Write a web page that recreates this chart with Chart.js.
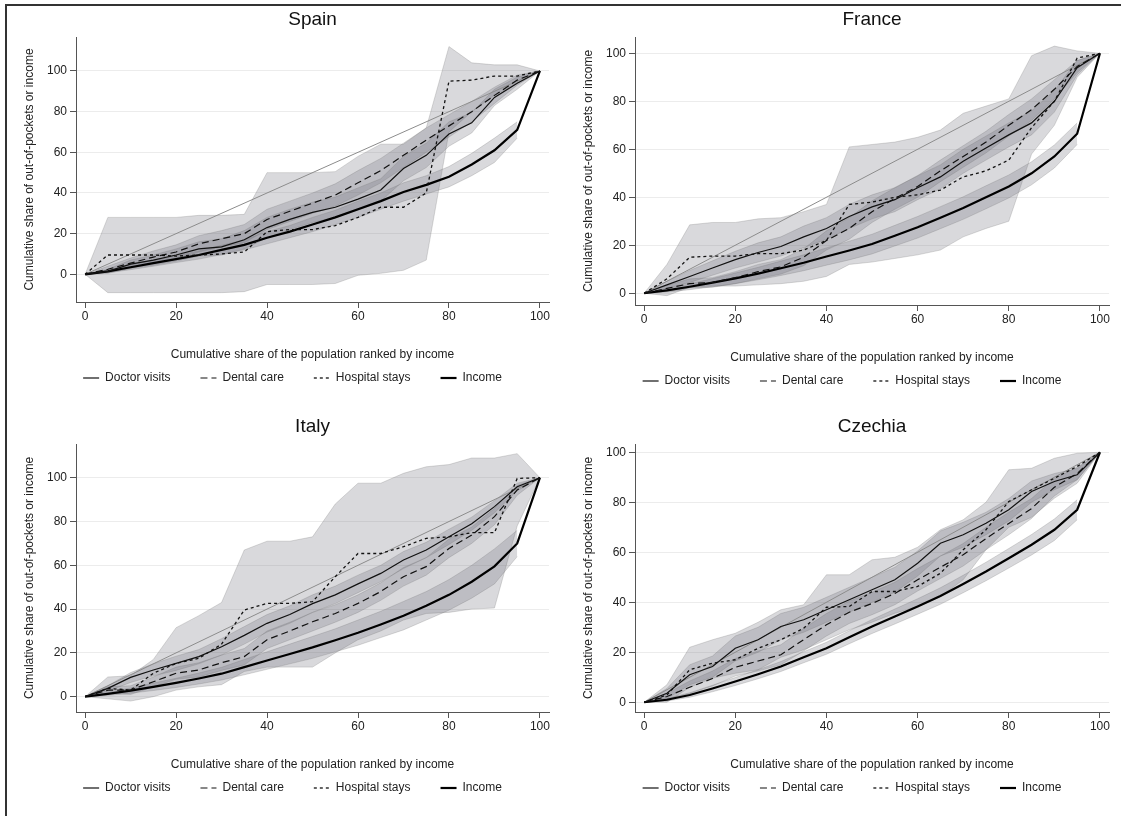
<!DOCTYPE html>
<html lang="en">
<head>
<meta charset="UTF-8">
<title>Concentration curves of out-of-pocket payments</title>
<style>
    body { margin: 0; background: #fff; overflow: hidden; }
    #frame { position: absolute; left: 5px; top: 4px; width: 1200px; height: 900px;
             border-top: 2px solid #333; border-left: 2px solid #333; }
    .panel { position: absolute; }
</style>
<script src="https://cdn.jsdelivr.net/npm/chart.js"></script>
</head>
<body>
<div id="frame"></div>
<div class="panel" style="left:8px;top:6px;width:543px;height:388px"><canvas id="spain"></canvas></div>
<div class="panel" style="left:567px;top:6px;width:544px;height:391px"><canvas id="france"></canvas></div>
<div class="panel" style="left:8px;top:413px;width:543px;height:391px"><canvas id="italy"></canvas></div>
<div class="panel" style="left:567px;top:413px;width:544px;height:391px"><canvas id="czechia"></canvas></div>

<script>
    // cumulative population share (ventiles)
    const xs = [0, 5, 10, 15, 20, 25, 30, 35, 40, 45, 50, 55, 60, 65, 70, 75, 80, 85, 90, 95, 100];
    const xTicks = [0, 20, 40, 60, 80, 100];
    const yTicks = [0, 20, 40, 60, 80, 100];
    const equalityX = [0, 100];
    const equalityY = [0, 100];
    const legendLabels = ['Doctor visits', 'Dental care', 'Hospital stays', 'Income'];

    // Spain
    const spainDoctor   = [0, 1.5, 5, 7, 9.5, 12.5, 13.5, 17, 23, 27, 30.5, 33, 37, 41.5, 52, 58.5, 69, 74.5, 87, 94, 100];
    const spainDental   = [0, 2.5, 5.5, 8.5, 11, 15, 17.5, 20, 27, 31, 35, 39, 45, 51, 58.5, 66, 73, 80, 88, 95.5, 100];
    const spainHospital = [0, 9.5, 9.5, 9.5, 9, 9.5, 10, 11, 21, 22, 22, 24, 28, 33, 33, 40, 95, 95.5, 97.5, 97.5, 100];
    const spainIncome   = [0, 1.5, 3.5, 5.5, 7.5, 9.5, 12, 14.5, 18, 21, 24.5, 28, 32, 36, 40.5, 44, 48, 54, 61, 71, 100];
    const spainDoctorLo   = [0, 0.5, 3, 4.5, 6.5, 9, 9.5, 12.5, 18, 22, 25.5, 28, 31.5, 36, 46, 52.5, 63, 69.5, 83, 91, 100];
    const spainDoctorHi   = [0, 2.5, 7, 9.5, 12.5, 16, 17.5, 21.5, 28, 32, 35.5, 38, 42.5, 47, 58, 64.5, 75, 79.5, 91, 97, 100];
    const spainDentalLo   = [0, 1, 3, 5.5, 7.5, 11, 13.5, 15.5, 22, 26, 30, 33.5, 39, 45, 52.5, 60, 67.5, 75, 84, 93, 100];
    const spainDentalHi   = [0, 4, 8, 11.5, 14.5, 19, 21.5, 24.5, 32, 36, 40, 44.5, 51, 57, 64.5, 72, 78.5, 85, 92, 98, 100];
    const spainHospitalLo = [0, -9, -9, -9, -9, -9, -9, -8.5, -5, -5, -5, -4.5, -0.5, 0.5, 2, 7, 70, 80, 88, 94, 100];
    const spainHospitalHi = [0, 28, 28, 28, 28, 29, 29, 29.5, 50, 50, 50, 50.5, 58, 64, 64, 72, 112, 104, 103, 103, 100];
    const spainIncomeLo   = [0, 0.8, 2.3, 4, 5.8, 7.5, 9.7, 12, 15, 18, 21, 24.5, 28, 32, 36, 39.5, 43, 48.5, 55, 67, null];
    const spainIncomeHi   = [0, 2.2, 4.7, 7, 9.2, 11.5, 14.3, 17, 21, 24, 28, 31.5, 36, 40, 45, 48.5, 53, 59.5, 67, 75, null];

    // France
    const franceDoctor   = [0, 3.5, 7, 10.5, 14, 17, 19.5, 23.5, 27, 32, 36, 39, 44, 48.5, 55, 60.5, 66, 71, 80, 94, 100];
    const franceDental   = [0, 2, 4, 4.5, 6.5, 9, 11, 15, 22, 27, 34, 39.5, 44.5, 51, 57, 63, 70, 76.5, 85, 94.5, 100];
    const franceHospital = [0, 6, 15, 15.5, 15.5, 16.5, 16.5, 18, 22, 37, 38, 40, 41, 43, 48.5, 51, 55.5, 69, 80, 98, 100];
    const franceIncome   = [0, 1.2, 2.7, 4.4, 6.2, 8.2, 10.4, 12.7, 15.3, 17.8, 20.5, 24, 27.5, 31.5, 35.5, 40, 44.5, 50, 57, 66.5, 100];
    const franceDoctorLo   = [0, 2, 4.5, 7.5, 10.5, 13, 15.5, 19, 22.5, 27, 31, 34, 39, 43.5, 50, 55.5, 61, 66, 75.5, 91, 100];
    const franceDoctorHi   = [0, 5, 9.5, 13.5, 17.5, 21, 23.5, 28, 31.5, 37, 41, 44, 49, 53.5, 60, 65.5, 71, 76, 84.5, 97, 100];
    const franceDentalLo   = [0, 0.8, 2.2, 2.5, 4, 6, 8, 11.5, 18, 22.5, 29.5, 35, 40, 46.5, 52.5, 58.5, 65.5, 72, 81, 92, 100];
    const franceDentalHi   = [0, 3.2, 6, 6.5, 9, 12, 14, 18.5, 26, 31.5, 38.5, 44, 49, 55.5, 61.5, 67.5, 74.5, 81, 89, 97, 100];
    const franceHospitalLo = [0, -1, 2.5, 3, 3, 3.5, 4, 5, 7, 12, 13, 14.5, 16, 18, 23.5, 27, 30, 58, 70, 90, 100];
    const franceHospitalHi = [0, 12, 28.5, 29.5, 29.5, 31, 31.5, 34, 37, 61, 62, 63, 65, 68, 75, 78, 81, 99, 103, 101, 100];
    const franceIncomeLo   = [0, 0.5, 1.5, 2.7, 4, 5.6, 7.4, 9.4, 11.7, 13.9, 16.4, 19.7, 23, 26.9, 30.8, 35.2, 39.7, 45.2, 52.2, 62, null];
    const franceIncomeHi   = [0, 1.9, 3.9, 6.1, 8.4, 10.8, 13.4, 16, 18.9, 21.7, 24.6, 28.3, 32, 36.1, 40.2, 44.8, 49.3, 54.8, 61.8, 71, null];

    // Italy
    const italyDoctor   = [0, 3.8, 8.8, 12.2, 15.2, 18.3, 22.8, 28, 33.5, 37.5, 42.5, 46.5, 51.5, 56.3, 62.4, 67, 73, 79, 86.8, 95.9, 100];
    const italyDental   = [0, 3, 3, 6.8, 10.7, 12.2, 15.5, 18.3, 26, 30, 34.2, 38, 42.6, 48, 54.8, 59.4, 67.7, 73.8, 82.2, 94.4, 100];
    const italyHospital = [0, 3.8, 3, 10.7, 15.2, 17.5, 24, 39.6, 42.6, 42.6, 43.4, 54.8, 65.4, 65.4, 68.5, 72.3, 73, 74.9, 74.9, 99.7, 100];
    const italyIncome   = [0, 1.3, 2.8, 4.5, 6.3, 8.3, 10.5, 13.5, 16.5, 19.5, 22.5, 25.8, 29.2, 33, 37, 41.5, 46.5, 52.5, 59.5, 70, 100];
    const italyDoctorLo   = [0, 2.5, 6.5, 9.5, 12, 15, 19, 24, 29.5, 33.5, 38.5, 42.5, 47.5, 52.5, 58.5, 63.5, 69.5, 76, 84, 94, 100];
    const italyDoctorHi   = [0, 5, 11, 15, 18.5, 21.5, 26.5, 32, 37.5, 41.5, 46.5, 50.5, 55.5, 60, 66.3, 70.5, 76.5, 82, 89.5, 97.5, 100];
    const italyDentalLo   = [0, 1.5, 1, 4.5, 8, 9, 12, 14.5, 22, 26, 30, 34, 38.5, 44, 50.5, 55.5, 63.5, 70, 78.5, 92, 100];
    const italyDentalHi   = [0, 4.5, 5, 9, 13.5, 15.5, 19, 22, 30, 34, 38.5, 42, 46.5, 52, 59, 63.5, 72, 77.5, 86, 96.5, 100];
    const italyHospitalLo = [0, -1, -2, 0, 3, 4.5, 5.5, 11.5, 13.5, 13.5, 13.5, 20, 26, 30, 35, 38, 38.5, 40, 40.5, 78, 100];
    const italyHospitalHi = [0, 9, 9.5, 17, 31.5, 37, 43, 67, 71, 71, 73, 88, 97.5, 97.5, 102, 105, 106, 109, 109, 111, 100];
    const italyIncomeLo   = [0, 0.6, 1.6, 2.8, 4.2, 5.8, 7.6, 10, 12.5, 15, 17.5, 20.5, 23.5, 27, 30.5, 35, 39.5, 45, 51.5, 64, null];
    const italyIncomeHi   = [0, 2, 4, 6.2, 8.4, 10.8, 13.4, 17, 20.5, 24, 27.5, 31, 35, 39, 43.5, 48, 53.5, 60, 67.5, 76, null];

    // Czechia
    const czechDoctor   = [0, 3.6, 11, 14.3, 21.6, 25, 30.3, 33, 37, 41, 45, 49, 55.6, 63.6, 67, 71.6, 77, 84.3, 88.3, 91, 100];
    const czechDental   = [0, 2.3, 6, 9.5, 14, 16.5, 19, 25, 31, 36, 39.5, 43.5, 49, 54, 59, 65.5, 71.5, 77.5, 86, 91.5, 100];
    const czechHospital = [0, 2.9, 13, 15.6, 17, 21.6, 25, 29.6, 38, 38.3, 44.3, 44.3, 46.3, 51.6, 61, 69, 80.3, 85, 89.6, 94.3, 100];
    const czechIncome   = [0, 1, 2.9, 5.5, 8.3, 11.2, 14.3, 18, 21.6, 26, 30.3, 34.3, 38.3, 42.5, 47.3, 52.3, 57.6, 63, 69, 77, 100];
    const czechDoctorLo   = [0, 1.5, 7, 10, 16.5, 20, 25, 28, 32, 36, 40, 44, 50.5, 58.5, 62, 67, 72.5, 80, 85, 89, 100];
    const czechDoctorHi   = [0, 5.5, 15, 18.5, 26.5, 30, 35.5, 38, 42, 46, 50, 54, 60.5, 68.5, 72, 76, 81.5, 88.5, 91.5, 93.5, 100];
    const czechDentalLo   = [0, 1, 3.5, 6.5, 10.5, 12.5, 15, 20.5, 26.5, 31.5, 35, 39, 44.5, 49.5, 54.5, 61, 67, 73.5, 82.5, 89, 100];
    const czechDentalHi   = [0, 3.6, 8.5, 12.5, 17.5, 20.5, 23, 29.5, 35.5, 40.5, 44, 48, 53.5, 58.5, 63.5, 70, 76, 81.5, 89.5, 94, 100];
    const czechHospitalLo = [0, 0, 6, 9.6, 11.6, 13, 18, 21, 25, 29, 32, 35.6, 38.3, 42.3, 49, 61, 70, 74, 81.6, 87.6, 100];
    const czechHospitalHi = [0, 7, 22, 25, 27.6, 32, 37, 39, 51, 51, 57, 58, 62, 69, 73, 80, 93, 93.6, 97.6, 99.6, 100];
    const czechIncomeLo   = [0, 0.5, 2, 4.2, 6.7, 9.4, 12.3, 15.8, 19.2, 23.4, 27.5, 31.3, 35.2, 39.2, 43.8, 48.6, 53.7, 58.9, 64.7, 73, null];
    const czechIncomeHi   = [0, 1.5, 3.8, 6.8, 9.9, 13, 16.3, 20.2, 24, 28.6, 33.1, 37.3, 41.4, 45.8, 50.8, 56, 61.5, 67.1, 73.3, 81, null];

    const FONT = "'Liberation Sans', Arial, sans-serif";
    const BAND_FILL = 'rgba(110,110,118,0.26)';
    const BAND_EDGE = 'rgba(110,110,110,0.3)';

    const panels = [
        { id: 'spain', title: 'Spain', yMin: -13.6, yMax: 116.7,
          doctor: spainDoctor, dental: spainDental, hospital: spainHospital, income: spainIncome,
          bands: [[spainHospitalLo, spainHospitalHi], [spainDoctorLo, spainDoctorHi],
                  [spainDentalLo, spainDentalHi], [spainIncomeLo, spainIncomeHi]] },
        { id: 'france', title: 'France', yMin: -4.9, yMax: 106.8,
          doctor: franceDoctor, dental: franceDental, hospital: franceHospital, income: franceIncome,
          bands: [[franceHospitalLo, franceHospitalHi], [franceDoctorLo, franceDoctorHi],
                  [franceDentalLo, franceDentalHi], [franceIncomeLo, franceIncomeHi]] },
        { id: 'italy', title: 'Italy', yMin: -7, yMax: 115.4,
          doctor: italyDoctor, dental: italyDental, hospital: italyHospital, income: italyIncome,
          bands: [[italyHospitalLo, italyHospitalHi], [italyDoctorLo, italyDoctorHi],
                  [italyDentalLo, italyDentalHi], [italyIncomeLo, italyIncomeHi]] },
        { id: 'czechia', title: 'Czechia', yMin: -3.9, yMax: 103.3,
          doctor: czechDoctor, dental: czechDental, hospital: czechHospital, income: czechIncome,
          bands: [[czechHospitalLo, czechHospitalHi], [czechDoctorLo, czechDoctorHi],
                  [czechDentalLo, czechDentalHi], [czechIncomeLo, czechIncomeHi]] }
    ];

    function pts(arr) {
        return xs.map((x, i) => ({ x: x, y: arr[i] }));
    }

    function buildDatasets(p) {
        const ds = [
            { label: 'Doctor visits', data: pts(p.doctor), borderColor: '#111', borderWidth: 1.2, order: 0 },
            { label: 'Dental care', data: pts(p.dental), borderColor: '#111', borderWidth: 1.2, borderDash: [7, 4], order: 0 },
            { label: 'Hospital stays', data: pts(p.hospital), borderColor: '#111', borderWidth: 1.3, borderDash: [3, 3], order: 0 },
            { label: 'Income', data: pts(p.income), borderColor: '#000', borderWidth: 2.2, order: 0 },
            { label: 'Equality', data: equalityX.map((x, i) => ({ x: x, y: equalityY[i] })),
              borderColor: '#8c8c8c', borderWidth: 1, order: 1 }
        ];
        p.bands.forEach(b => {
            const lo = ds.length;
            ds.push({ label: 'band', data: pts(b[0]), borderColor: BAND_EDGE, borderWidth: 0.8, fill: false, order: 2 });
            ds.push({ label: 'band', data: pts(b[1]), borderColor: BAND_EDGE, borderWidth: 0.8,
                      backgroundColor: BAND_FILL, fill: lo, order: 2 });
        });
        return ds;
    }

    // moves the (centred) legend row sideways, Stata centres it on the whole graph
    const shiftLegend = {
        id: 'shiftLegend',
        afterLayout(chart, args, opts) {
            chart.legend.left += opts.dx;
            chart.legend.right += opts.dx;
        }
    };

    panels.forEach(p => {
        new Chart(document.getElementById(p.id), {
            type: 'line',
            data: { datasets: buildDatasets(p) },
            plugins: [shiftLegend],
            options: {
                animation: false,
                responsive: true,
                maintainAspectRatio: false,
                layout: { padding: 0 },
                elements: { point: { radius: 0 }, line: { tension: 0 } },
                scales: {
                    x: {
                        type: 'linear', min: -2, max: 102,
                        afterBuildTicks: s => { s.ticks = xTicks.map(v => ({ value: v })); },
                        afterFit: s => { s.height = 40; },
                        grid: { drawOnChartArea: false, tickLength: 6, color: '#555', tickColor: '#555' },
                        border: { color: '#555' },
                        ticks: { padding: 1, color: '#222', font: { family: FONT, size: 12 } },
                        title: { display: true, text: 'Cumulative share of the population ranked by income',
                                 color: '#222', font: { family: FONT, size: 12 },
                                 padding: { top: 0, bottom: -20.2 } }
                    },
                    y: {
                        type: 'linear', min: p.yMin, max: p.yMax,
                        afterBuildTicks: s => { s.ticks = yTicks.map(v => ({ value: v })); },
                        afterFit: s => { s.width = 68; },
                        grid: { color: '#ececec', tickColor: '#555', tickLength: 6 },
                        border: { color: '#555' },
                        ticks: { padding: 3, color: '#222', font: { family: FONT, size: 12 } },
                        title: { display: true, text: 'Cumulative share of out-of-pockets or income',
                                 color: '#222', font: { family: FONT, size: 12 },
                                 padding: { top: 14.8, bottom: 0 } }
                    }
                },
                plugins: {
                    title: { display: true, text: p.title, fullSize: false, color: '#111',
                             font: { family: FONT, size: 19, weight: 'normal' },
                             padding: { top: 2.6, bottom: 5.6 } },
                    legend: {
                        position: 'bottom',
                        labels: {
                            usePointStyle: true, pointStyleWidth: 16, padding: 30,
                            color: '#222', font: { family: FONT, size: 12 },
                            generateLabels: chart => chart.data.datasets
                                .map((d, i) => ({
                                    text: d.label, datasetIndex: i, hidden: false,
                                    strokeStyle: d.borderColor, fillStyle: d.borderColor,
                                    lineWidth: d.borderWidth, lineDash: d.borderDash || [],
                                    pointStyle: 'line', fontColor: '#222'
                                }))
                                .filter(item => legendLabels.includes(item.text))
                        }
                    },
                    tooltip: { enabled: false },
                    shiftLegend: { dx: 13 }
                }
            }
        });
    });
</script>
</body>
</html>
